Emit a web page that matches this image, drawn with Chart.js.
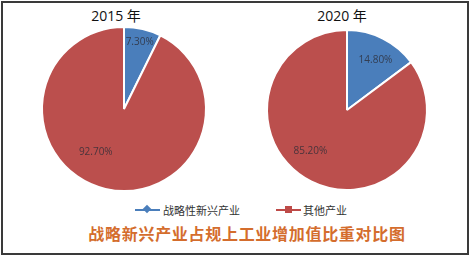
<!DOCTYPE html>
<html>
<head>
<meta charset="utf-8">
<script src="https://cdn.jsdelivr.net/npm/chart.js@4.4.1/dist/chart.umd.min.js"></script>
<style>
html, body { margin: 0; padding: 0; background: #fff; }
#wrap { position: relative; width: 470px; height: 255px; overflow: hidden; font-family: "Noto Sans CJK SC", "Noto Sans", sans-serif; }
#frame { position: absolute; left: 1px; top: 1px; width: 464px; height: 250px; border: 2px solid #3a3a3a; }
.year { position: absolute; top: 5px; width: 120px; text-align: center; font-size: 14px; color: #111; font-family: "Open Sans", "Noto Sans CJK SC", sans-serif; }
canvas { position: absolute; }
#legend { position: absolute; top: 201px; left: 0; width: 470px; height: 18px; font-size: 11px; color: #333; }
.item { position: absolute; top: 0; height: 18px; line-height: 18px; }
.line { position: absolute; top: 8px; width: 25px; height: 2px; }
.mark { position: absolute; }
#title { position: absolute; top: 221px; left: 0; width: 494px; text-align: center; font-size: 16px; letter-spacing: 0.7px; font-weight: bold; color: #d46d2d; }
</style>
</head>
<body>
<div id="wrap">
  <div id="frame"></div>
  <div class="year" id="y0" style="left:56px"></div>
  <div class="year" id="y1" style="left:282px"></div>
  <canvas id="pie0" width="180" height="180" style="left:34px; top:19px"></canvas>
  <canvas id="pie1" width="180" height="180" style="left:257px; top:20px"></canvas>
  <div id="legend">
    <div class="item" style="left:135px">
      <div class="line" style="left:0; background:#4a7ebb"></div>
      <div class="mark" style="left:9px; top:5px; width:6px; height:6px; background:#4a7ebb; transform:rotate(45deg)"></div>
      <span id="lg0" style="position:absolute; left:28px; white-space:nowrap"></span>
    </div>
    <div class="item" style="left:276px">
      <div class="line" style="left:0; background:#be4b48"></div>
      <div class="mark" style="left:9px; top:5px; width:7px; height:7px; background:#be4b48"></div>
      <span id="lg1" style="position:absolute; left:27px; white-space:nowrap"></span>
    </div>
  </div>
  <div id="title">战略新兴产业占规上工业增加值比重对比图</div>
</div>
<script>
const categories = ["战略性新兴产业", "其他产业"];
const years = ["2015 年", "2020 年"];
const share2015 = [7.30, 92.70];
const share2020 = [14.80, 85.20];

const colors = ["#4a7ebb", "#bb4f4d"];

document.getElementById("y0").textContent = years[0];
document.getElementById("y1").textContent = years[1];
document.getElementById("lg0").textContent = categories[0];
document.getElementById("lg1").textContent = categories[1];

// label placement: fraction of radius and angle shift (deg) per slice
const labelPlace = [
  [{ frac: 0.84, shift: 0 }, { frac: 0.63, shift: 20 }],
  [{ frac: 0.72, shift: 3 }, { frac: 0.69, shift: 15 }]
];

const pctLabels = {
  id: "pctLabels",
  afterDatasetsDraw(chart, args, opts) {
    const c = chart.ctx;
    const meta = chart.getDatasetMeta(0);
    const vals = chart.data.datasets[0].data;
    c.save();
    c.font = "10px 'Open Sans', sans-serif";
    c.fillStyle = "rgba(45,45,55,0.8)";
    c.textAlign = "center";
    c.textBaseline = "middle";
    meta.data.forEach((arc, i) => {
      const p = opts.place[i];
      const a = (arc.startAngle + arc.endAngle) / 2 + p.shift * Math.PI / 180;
      const r = arc.outerRadius * p.frac;
      c.fillText(vals[i].toFixed(2) + "%", arc.x + Math.cos(a) * r, arc.y + Math.sin(a) * r);
    });
    c.restore();
  }
};

function makePie(id, values, radius, place) {
  const el = document.getElementById(id);
  if (!el) return;
  new Chart(el, {
    type: "pie",
    data: {
      labels: categories,
      datasets: [{
        data: values,
        backgroundColor: colors,
        borderColor: "#fff",
        borderWidth: 2,
        hoverOffset: 0
      }]
    },
    options: {
      responsive: false,
      animation: false,
      events: [],
      radius: radius,
      plugins: {
        legend: { display: false },
        tooltip: { enabled: false },
        pctLabels: { place: place }
      }
    },
    plugins: [pctLabels]
  });
}

makePie("pie0", share2015, 82, labelPlace[0]);
makePie("pie1", share2020, 80, labelPlace[1]);
</script>
</body>
</html>
